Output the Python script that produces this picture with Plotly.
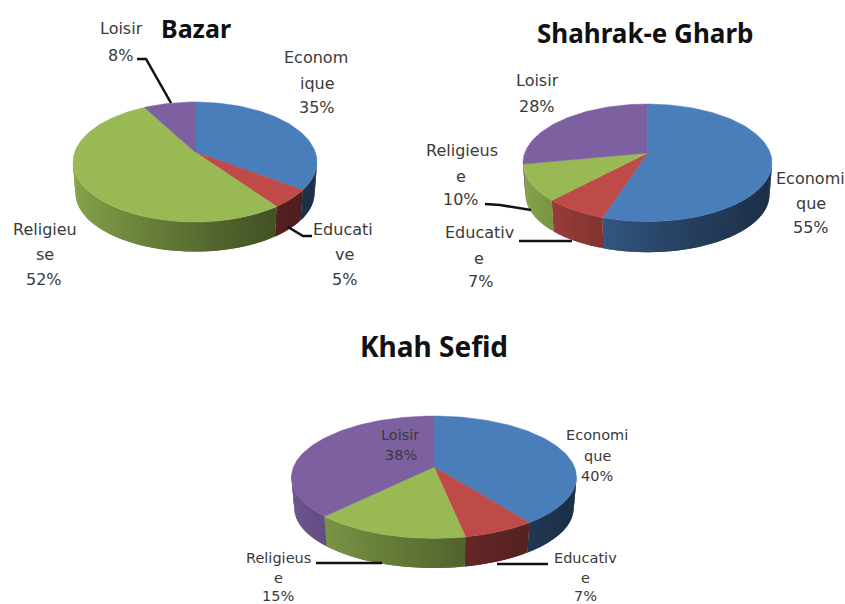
import math
import plotly.graph_objects as go

# ---------- data ----------
categories = ["Economique", "Educative", "Religieuse", "Loisir"]
bazar_values = [35, 5, 52, 8]
shahrak_values = [55, 7, 10, 28]
khah_values = [40, 7, 15, 38]
pie_titles = ["Bazar", "Shahrak-e Gharb", "Khah Sefid"]

# ---------- style / layout ----------
COLORS = [(74, 126, 187), (190, 75, 72), (152, 185, 84), (125, 96, 160)]
FONT = "DejaVu Sans"
SHADE = [(-1.0, .90), (-.3, .68), (.3, .50), (1.0, .36)]
K = 1 / 6  # perspective of the tilted disc

PIES = [
    dict(values=bazar_values, title=pie_titles[0], cx=195, apex=152, back=50, rx=122, depth=31,
         tpos=(196, 28), tsize=25, lsize=16,
         labels=[
             [("Econom", 316, 57), ("ique", 317, 83), ("{}", 317, 107)],
             [("Educati", 343, 229), ("ve", 344, 254), ("{}", 344, 279)],
             [("Religieu", 45, 229), ("se", 45, 254), ("{}", 44, 279)],
             [("Loisir", 121, 28), ("{}", 120, 55)],
         ],
         leaders=[[(137, 59), (146, 59), (171, 103)], [(288, 227), (303, 236), (312, 236)]]),
    dict(values=shahrak_values, title=pie_titles[1], cx=647.5, apex=153, back=49, rx=124.5, depth=32,
         tpos=(645, 33), tsize=26, lsize=16,
         labels=[
             [("Economi", 810, 178), ("que", 811, 203), ("{}", 811, 227)],
             [("Educativ", 479, 232), ("e", 479, 258), ("{}", 480, 281)],
             [("Religieus", 462, 150), ("e", 461, 176), ("{}", 461, 199)],
             [("Loisir", 537, 80), ("{}", 537, 106)],
         ],
         leaders=[[(485, 204), (500, 205), (531, 210)], [(519, 241), (572, 241)]]),
    dict(values=khah_values, title=pie_titles[2], cx=434, apex=467, back=51, rx=142.5, depth=31,
         tpos=(434, 346), tsize=28, lsize=14.5,
         labels=[
             [("Economi", 597, 435), ("que", 597, 456), ("{}", 597, 476)],
             [("Educativ", 585, 558), ("e", 585, 578), ("{}", 585, 596)],
             [("Religieus", 278, 558), ("e", 278, 578), ("{}", 278, 596)],
             [("Loisir", 400, 435), ("{}", 401, 455)],
         ],
         leaders=[[(316, 563), (382, 563)], [(497, 564), (548, 564)]]),
]


def shade(x):
    for (x0, s0), (x1, s1) in zip(SHADE, SHADE[1:]):
        if x <= x1:
            return s0 + (s1 - s0) * (x - x0) / (x1 - x0)
    return SHADE[-1][1]


fig = go.Figure()
annotations = []


def project(pie, theta):
    a = pie["back"] * (1 + K)
    b = pie["rx"] * math.sqrt(1 - K * K)
    X, Y = math.sin(theta), math.cos(theta)
    d = 1 + K * Y
    return pie["cx"] + b * X / d, pie["apex"] - a * Y / d


for pie in PIES:
    total = sum(pie["values"])
    edges = [0]
    for v in pie["values"]:
        edges.append(edges[-1] + v / total * 2 * math.pi)

    # side wall, only the near half
    for i, color in enumerate(COLORS):
        t0, t1 = edges[i], edges[i + 1]
        n = max(2, int((t1 - t0) / math.radians(1.5)))
        for j in range(n):
            a0 = t0 + (t1 - t0) * j / n
            a1 = t0 + (t1 - t0) * (j + 1) / n
            # overlap the next segment so no pale seam shows between them
            a2 = min(t1, a1 + (t1 - t0) / n)
            if math.cos((a0 + a1) / 2) > -K + .02:
                continue
            p0, p1 = project(pie, a0), project(pie, a2)
            ax = pie["apex"]
            low = lambda p: (pie["cx"] + (p[0] - pie["cx"]) * .98,
                             ax + (p[1] - ax) * .98 + pie["depth"])
            q0, q1 = low(p0), low(p1)
            s = shade(math.sin((a0 + a1) / 2))
            c = "rgb({},{},{})".format(*[round(v * s) for v in color])
            fig.add_trace(go.Scatter(
                x=[p0[0], p1[0], q1[0], q0[0], p0[0]],
                y=[p0[1], p1[1], q1[1], q0[1], p0[1]],
                mode="none", fill="toself", fillcolor=c,
                hoverinfo="skip", showlegend=False))

    # top face
    for i, color in enumerate(COLORS):
        t0, t1 = edges[i], edges[i + 1]
        n = max(4, int((t1 - t0) / math.radians(1.5)))
        rim = [project(pie, t0 + (t1 - t0) * j / n) for j in range(n + 1)]
        xs = [pie["cx"]] + [p[0] for p in rim] + [pie["cx"]]
        ys = [pie["apex"]] + [p[1] for p in rim] + [pie["apex"]]
        c = "rgb({},{},{})".format(*color)
        fig.add_trace(go.Scatter(
            x=xs, y=ys, mode="lines", fill="toself", fillcolor=c,
            line=dict(color=c, width=.5), showlegend=False,
            name=categories[i], hoveron="fills",
            text=f"{pie['title']} – {categories[i]}: {pie['values'][i]}%", hoverinfo="text"))

    # leader lines
    for pts in pie["leaders"]:
        fig.add_trace(go.Scatter(
            x=[p[0] for p in pts], y=[p[1] for p in pts], mode="lines",
            line=dict(color="#111111", width=2.5), hoverinfo="skip", showlegend=False))

    # labels
    for i, lines in enumerate(pie["labels"]):
        for text, x, y in lines:
            annotations.append(dict(
                x=x, y=y, xref="x", yref="y", showarrow=False, xanchor="center", yanchor="middle",
                text=text.format(f"{pie['values'][i]}%"), borderpad=0,
                font=dict(family=FONT, size=pie["lsize"], color="#3a3a3a")))
    annotations.append(dict(
        x=pie["tpos"][0], y=pie["tpos"][1], xref="x", yref="y", showarrow=False,
        xanchor="center", yanchor="middle", text=f"<b>{pie['title']}</b>",
        font=dict(family="Noto Sans", size=pie["tsize"], color="#111111")))

fig.update_layout(
    width=845, height=604, autosize=False,
    margin=dict(l=0, r=0, t=0, b=0),
    paper_bgcolor="white", plot_bgcolor="white",
    showlegend=False, annotations=annotations,
    xaxis=dict(range=[0, 845], visible=False, fixedrange=True),
    yaxis=dict(range=[604, 0], visible=False, fixedrange=True),
)
fig.write_html("out.html", config={"displayModeBar": False},
               post_script="document.body.style.margin='0';document.documentElement.style.overflow='hidden';")
